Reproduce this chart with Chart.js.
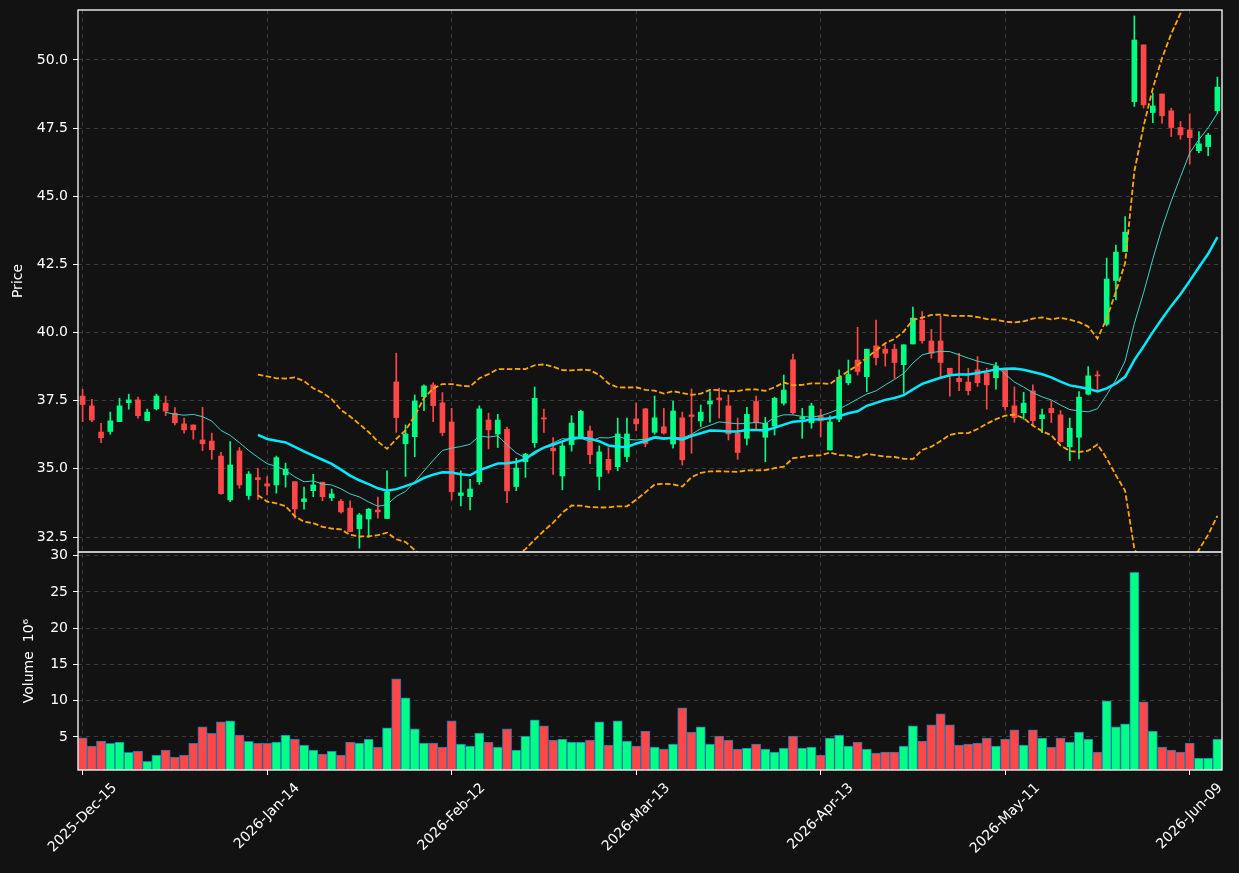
<!DOCTYPE html>
<html>
<head>
<meta charset="utf-8">
<script src="https://cdn.jsdelivr.net/npm/chart.js@4/dist/chart.umd.min.js"></script>
<style>
    html, body { margin: 0; padding: 0; background: #121212; }
    #wrap { position: relative; width: 1239px; height: 873px; }
</style>
</head>
<body>
<div id="wrap"><canvas id="chart" width="1239" height="873"></canvas></div>
<script>
// Данные свечей (читаются с картинки)
const opens = [
    37.67, 37.31, 36.35, 36.37, 36.73, 37.43, 37.53, 36.77, 37.20, 37.41,
    37.04, 36.65, 36.61, 36.06, 36.02, 35.47, 33.86, 35.66, 34.02, 34.68,
    34.45, 34.41, 34.78, 34.53, 33.80, 34.20, 34.51, 33.94, 33.81, 33.56,
    32.80, 33.16, 33.49, 33.18, 38.19, 35.92, 36.18, 37.65, 38.08, 37.42,
    36.72, 34.02, 33.98, 34.53, 36.79, 36.28, 36.45, 34.35, 35.26, 35.96,
    36.87, 35.76, 34.74, 35.89, 36.17, 36.39, 34.72, 35.35, 35.08, 35.45,
    36.83, 37.20, 36.34, 36.54, 35.91, 36.87, 36.98, 36.76, 37.38, 37.60,
    37.31, 36.31, 36.12, 37.47, 36.16, 36.57, 37.41, 39.00, 36.83, 36.69,
    36.94, 35.69, 36.82, 38.16, 38.99, 38.38, 39.51, 39.39, 39.39, 38.82,
    39.58, 40.46, 39.69, 39.69, 38.69, 38.32, 38.18, 38.63, 38.51, 38.34,
    38.69, 37.31, 37.06, 37.86, 36.84, 37.22, 36.98, 35.81, 36.16, 37.74,
    38.44, 40.30, 41.91, 42.97, 48.47, 50.55, 48.07, 48.75, 48.13, 47.52,
    47.43, 46.67, 46.82, 48.14
];
const highs = [
    37.92, 37.55, 36.67, 37.08, 37.59, 37.74, 37.63, 37.19, 37.74, 37.67,
    37.25, 36.86, 36.61, 37.26, 36.31, 35.61, 36.00, 35.78, 34.90, 35.02,
    34.72, 35.47, 35.21, 34.53, 34.33, 34.80, 34.51, 34.26, 33.88, 33.83,
    33.37, 33.55, 33.96, 34.93, 39.24, 36.61, 37.71, 38.08, 38.16, 37.80,
    37.22, 34.93, 34.62, 37.31, 37.04, 37.00, 36.53, 35.39, 35.57, 38.00,
    37.19, 36.15, 35.96, 36.95, 37.15, 36.57, 35.84, 35.78, 36.86, 36.86,
    37.41, 37.22, 37.67, 37.22, 37.49, 37.08, 37.93, 37.34, 37.83, 37.96,
    37.71, 36.86, 37.26, 37.67, 36.89, 37.63, 38.44, 39.21, 37.22, 37.41,
    37.19, 36.94, 38.63, 38.99, 40.19, 39.39, 40.46, 39.55, 39.57, 39.55,
    40.93, 40.77, 40.12, 40.61, 38.69, 39.24, 38.69, 39.12, 38.69, 38.90,
    38.69, 38.00, 37.81, 38.08, 37.19, 37.50, 37.14, 36.86, 37.83, 38.75,
    38.59, 42.73, 43.21, 44.25, 51.61, 50.55, 48.78, 48.75, 48.23, 47.74,
    48.02, 47.37, 47.31, 49.37
];
const lows = [
    36.73, 36.73, 35.96, 36.27, 36.73, 37.19, 36.86, 36.77, 37.16, 36.95,
    36.61, 36.31, 36.09, 35.67, 35.35, 34.07, 33.80, 34.29, 33.88, 33.88,
    34.04, 34.11, 34.33, 33.19, 33.52, 33.98, 33.83, 33.83, 33.37, 32.70,
    32.09, 32.49, 33.19, 33.18, 36.34, 34.72, 35.45, 37.13, 36.73, 36.22,
    33.86, 33.64, 33.49, 34.43, 35.73, 35.78, 33.76, 34.20, 34.69, 35.79,
    36.34, 34.80, 34.23, 35.65, 36.10, 35.19, 34.23, 34.84, 34.93, 35.26,
    36.40, 35.81, 36.27, 36.27, 35.76, 35.14, 35.57, 36.55, 36.71, 36.86,
    36.06, 35.35, 35.88, 36.43, 35.26, 36.24, 37.34, 37.01, 36.12, 36.49,
    36.18, 35.69, 36.73, 38.08, 38.44, 37.83, 38.81, 38.77, 38.32, 37.77,
    39.58, 39.61, 39.06, 38.38, 37.67, 37.87, 37.71, 38.02, 37.19, 37.92,
    37.16, 36.71, 36.82, 36.57, 36.33, 36.70, 35.98, 35.30, 35.36, 37.71,
    37.89, 40.24, 41.20, 42.97, 48.29, 48.23, 47.70, 47.68, 47.19, 47.09,
    46.18, 46.60, 46.49, 48.04
];
const closes = [
    37.36, 36.79, 36.14, 36.76, 37.31, 37.53, 36.95, 37.08, 37.67, 37.12,
    36.69, 36.43, 36.43, 35.92, 35.70, 34.09, 35.14, 34.41, 34.81, 34.60,
    34.37, 35.41, 34.99, 33.53, 33.90, 34.41, 33.98, 34.08, 33.42, 32.70,
    33.31, 33.52, 33.42, 34.15, 36.88, 36.28, 37.49, 38.04, 37.32, 36.33,
    34.16, 34.12, 34.26, 37.20, 36.43, 36.79, 34.19, 35.03, 35.54, 37.59,
    36.83, 35.66, 35.84, 36.68, 37.11, 35.52, 35.62, 34.96, 36.28, 36.28,
    36.65, 35.92, 36.87, 36.31, 37.12, 35.33, 36.92, 37.08, 37.49, 37.53,
    36.28, 35.60, 37.00, 36.69, 36.67, 37.59, 37.89, 37.06, 36.89, 37.31,
    36.76, 36.72, 38.36, 38.46, 38.57, 39.39, 39.08, 39.24, 38.90, 39.55,
    40.53, 39.70, 39.24, 38.90, 38.47, 38.20, 37.87, 38.16, 38.08, 38.77,
    37.28, 36.88, 37.41, 36.77, 36.98, 37.06, 36.00, 36.49, 37.63, 38.41,
    38.41, 41.96, 42.95, 43.68, 50.73, 48.35, 48.31, 47.95, 47.52, 47.25,
    47.15, 46.92, 47.24, 49.00
];
// Объём, в миллионах
const volumes = [
    4.90, 3.75, 4.45, 4.12, 4.31, 2.88, 3.06, 1.63, 2.51, 3.20,
    2.23, 2.51, 4.12, 6.39, 5.51, 7.08, 7.22, 5.28, 4.40, 4.12,
    4.12, 4.31, 5.28, 4.72, 3.89, 3.20, 2.65, 3.06, 2.51, 4.31,
    4.17, 4.72, 3.61, 6.25, 13.03, 10.40, 6.11, 4.17, 4.17, 3.61,
    7.22, 4.03, 3.75, 5.55, 4.31, 3.61, 6.11, 3.20, 5.14, 7.36,
    6.53, 4.59, 4.72, 4.31, 4.31, 4.59, 7.08, 3.89, 7.22, 4.45,
    3.75, 5.83, 3.61, 3.34, 4.03, 9.01, 5.69, 6.39, 4.03, 5.14,
    4.59, 3.34, 3.48, 4.03, 3.34, 2.92, 3.48, 5.14, 3.48, 3.61,
    2.51, 4.86, 5.28, 3.75, 4.31, 3.34, 2.79, 2.92, 2.92, 3.75,
    6.53, 4.45, 6.67, 8.19, 6.67, 3.89, 4.03, 4.17, 4.86, 3.75,
    4.72, 5.97, 3.89, 5.97, 4.86, 3.61, 4.86, 4.31, 5.69, 4.72,
    2.92, 9.98, 6.39, 6.80, 27.71, 9.84, 5.83, 3.61, 3.20, 2.92,
    4.17, 2.09, 2.09, 4.72
];

// Подписи оси X и позиции (номер бара)
const tickIdx = [0, 20, 40, 60, 80, 100, 120];
const tickLabels = ['2025-Dec-15', '2026-Jan-14', '2026-Feb-12', '2026-Mar-13', '2026-Apr-13', '2026-May-11', '2026-Jun-09'];
const priceTicks = [32.5, 35.0, 37.5, 40.0, 42.5, 45.0, 47.5, 50.0];
const volTicks = [5, 10, 15, 20, 25, 30];

const UP = '#00ff84';
const DOWN = '#ff4747';
const GRID = '#3c3c3c';
const FONT = 'DejaVu Sans';

// Скользящее среднее
function sma(arr, n) {
    return arr.map((v, i) => {
        if (i < n - 1) return null;
        let s = 0;
        for (let k = i - n + 1; k <= i; k++) s += arr[k];
        return s / n;
    });
}

// Полосы Боллинджера (20, 2)
function bollinger(arr, n, m) {
    const mid = sma(arr, n);
    const up = [], lo = [];
    arr.forEach((v, i) => {
        if (mid[i] === null) { up.push(null); lo.push(null); return; }
        let ss = 0;
        for (let k = i - n + 1; k <= i; k++) ss += (arr[k] - mid[i]) ** 2;
        const sd = Math.sqrt(ss / (n - 1));
        up.push(mid[i] + m * sd);
        lo.push(mid[i] - m * sd);
    });
    return { up, lo };
}

const labels = closes.map((c, i) => i);
const colors = closes.map((c, i) => c >= opens[i] ? UP : DOWN);
const ma10 = sma(closes, 10);
const ma20 = sma(closes, 20);
const bb = bollinger(closes, 20, 2);

// Обрезка линий цены по верхней панели
const clipPrice = {
    id: 'clipPrice',
    beforeDatasetDraw(chart, args) {
        if (args.meta.yAxisID !== 'y') return;
        const { x, y } = chart.scales;
        chart.ctx.save();
        chart.ctx.beginPath();
        chart.ctx.rect(x.left, y.top, x.right - x.left, y.bottom - y.top);
        chart.ctx.clip();
    },
    afterDatasetDraw(chart, args) {
        if (args.meta.yAxisID !== 'y') return;
        chart.ctx.restore();
    }
};

// Рамки панелей и подписи дат
const frame = {
    id: 'frame',
    afterDraw(chart) {
        const ctx = chart.ctx;
        const { x, y } = chart.scales;
        const area = chart.chartArea;
        ctx.save();
        ctx.strokeStyle = '#ffffff';
        ctx.lineWidth = 1.3;
        ctx.strokeRect(area.left, area.top, area.right - area.left, area.bottom - area.top);
        ctx.beginPath();
        ctx.moveTo(area.left, y.bottom);
        ctx.lineTo(area.right, y.bottom);
        ctx.stroke();

        ctx.fillStyle = '#ffffff';
        ctx.font = '14px "' + FONT + '"';
        ctx.textAlign = 'center';
        ctx.textBaseline = 'middle';
        tickIdx.forEach((idx, k) => {
            const px = x.getPixelForValue(idx);
            const w = ctx.measureText(tickLabels[k]).width;
            const side = (w + 14) * Math.SQRT1_2;
            ctx.save();
            ctx.translate(px, area.bottom + 11 + side / 2);
            ctx.rotate(-Math.PI / 4);
            ctx.fillText(tickLabels[k], 0, 0);
            ctx.restore();
        });
        ctx.restore();
    }
};

// Фиксированная ширина осей Y, без лишних отступов
function fixY(s) {
    s.width = 78;
    s.paddingTop = 0;
    s.paddingBottom = 0;
}

const ctx = document.getElementById('chart').getContext('2d');
new Chart(ctx, {
    type: 'bar',
    data: {
        labels: labels,
        datasets: [
            {
                type: 'line', label: 'MA10', data: ma10, yAxisID: 'y',
                borderColor: '#3fd3c6', borderWidth: 1, pointRadius: 0, order: 0
            },
            {
                type: 'line', label: 'MA20', data: ma20, yAxisID: 'y',
                borderColor: '#00eaff', borderWidth: 2.5, pointRadius: 0, order: 0
            },
            {
                type: 'line', label: 'BB up', data: bb.up, yAxisID: 'y',
                borderColor: '#ffa500', borderWidth: 1.8, borderDash: [5.5, 2.5], pointRadius: 0, order: 0
            },
            {
                type: 'line', label: 'BB low', data: bb.lo, yAxisID: 'y',
                borderColor: '#ffa500', borderWidth: 1.8, borderDash: [5.5, 2.5], pointRadius: 0, order: 0
            },
            {
                label: 'wick', data: lows.map((l, i) => [l, highs[i]]), yAxisID: 'y',
                backgroundColor: colors, barThickness: 1, grouped: false, order: 2
            },
            {
                label: 'body', data: opens.map((o, i) => [o, closes[i]]), yAxisID: 'y',
                backgroundColor: colors, barThickness: 5, minBarLength: 1, grouped: false, order: 1
            },
            {
                label: 'volume', data: volumes, yAxisID: 'yv',
                backgroundColor: colors, borderColor: '#1f77b4', borderWidth: 1,
                barPercentage: 1, categoryPercentage: 1, grouped: false, order: 3
            }
        ]
    },
    options: {
        responsive: false,
        animation: false,
        layout: { padding: { left: 0, top: 10, right: 17, bottom: 0 } },
        plugins: { legend: { display: false }, tooltip: { enabled: false } },
        scales: {
            x: {
                type: 'category',
                offset: true,
                ticks: { display: false, autoSkip: false },
                grid: {
                    offset: false,
                    color: c => tickIdx.includes(c.index) ? GRID : 'transparent',
                    tickColor: c => tickIdx.includes(c.index) ? '#ffffff' : 'transparent',
                    tickLength: 5
                },
                border: { display: false, dash: [4, 4] },
                afterFit(s) { s.height = 103; }
            },
            // объём объявлен первым: в стопке он уходит вниз
            yv: {
                type: 'linear', position: 'left', stack: 'panels', stackWeight: 218,
                min: 0.45, max: 30.5,
                afterBuildTicks(s) { s.ticks = volTicks.map(v => ({ value: v })); },
                ticks: { color: '#ffffff', font: { family: FONT, size: 14 }, padding: 5, callback: v => String(v) },
                grid: { color: GRID, tickColor: '#ffffff', tickLength: 5 },
                border: { display: false, dash: [4, 4] },
                title: { display: true, text: 'Volume  10⁶', color: '#ffffff', font: { family: FONT, size: 14 }, padding: { top: 21, bottom: 0 } },
                afterFit: fixY
            },
            y: {
                type: 'linear', position: 'left', stack: 'panels', stackWeight: 542,
                min: 31.95, max: 51.83,
                afterBuildTicks(s) { s.ticks = priceTicks.map(v => ({ value: v })); },
                ticks: { color: '#ffffff', font: { family: FONT, size: 14 }, padding: 5, callback: v => v.toFixed(1) },
                grid: { color: GRID, tickColor: '#ffffff', tickLength: 5 },
                border: { display: false, dash: [4, 4] },
                title: { display: true, text: 'Price', color: '#ffffff', font: { family: FONT, size: 14 }, padding: { top: 10, bottom: 0 } },
                afterFit: fixY
            }
        }
    },
    plugins: [clipPrice, frame]
});
</script>
</body>
</html>
